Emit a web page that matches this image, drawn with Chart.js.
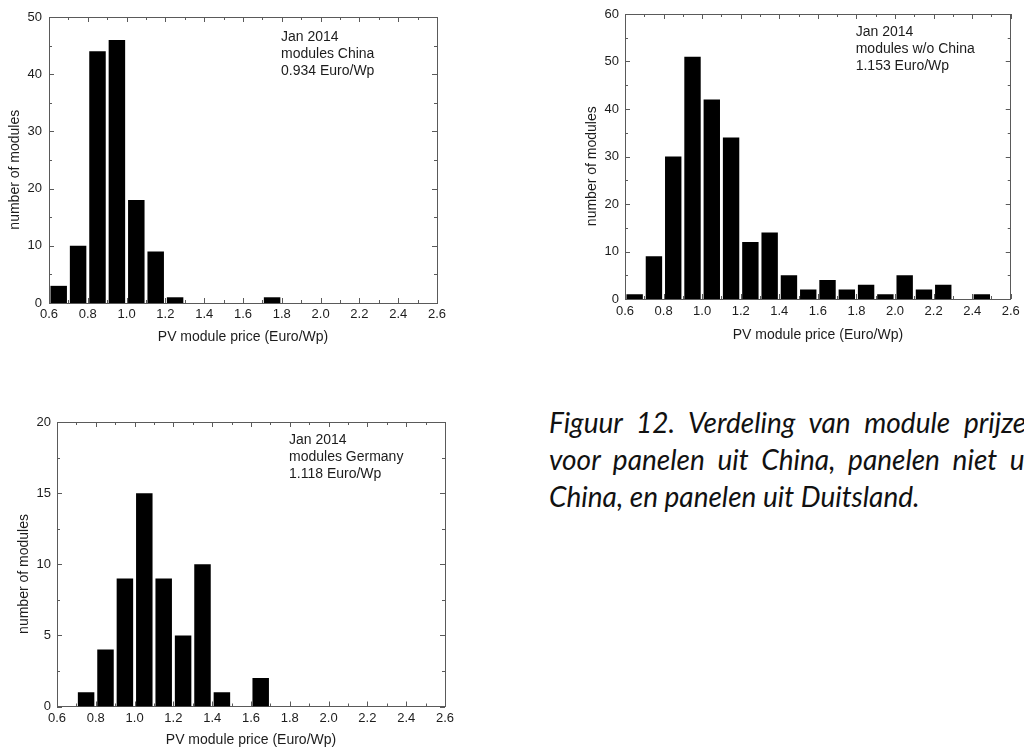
<!DOCTYPE html>
<html>
<head>
<meta charset="utf-8">
<script src="https://cdn.jsdelivr.net/npm/chart.js@4/dist/chart.umd.min.js"></script>
<style>
  html, body { margin: 0; padding: 0; background: #fff; overflow: hidden; width: 1024px; height: 747px; }
  .panel { position: absolute; }
  .caption { position: absolute; left: 549px; top: 404px; width: 492px;
             font-family: Lato, "Open Sans", sans-serif; font-style: italic; font-size: 28px;
             line-height: 37px; color: #111; white-space: nowrap; }
  .caption .j { text-align: justify; text-align-last: justify; white-space: normal; }
</style>
</head>
<body>
<div class="panel" id="p1" style="left:0px;top:0px;width:451px;height:349px"><canvas id="c1"></canvas></div>
<div class="panel" id="p2" style="left:575px;top:0px;width:449px;height:347px"><canvas id="c2"></canvas></div>
<div class="panel" id="p3" style="left:0px;top:405px;width:459px;height:344px"><canvas id="c3"></canvas></div>
<div class="caption">
  <div class="j">Figuur 12. Verdeling van module prijzen</div>
  <div class="j">voor panelen uit China, panelen niet uit</div>
  <div>China, en panelen uit Duitsland.</div>
</div>
<script>
// Price bins (Euro/Wp), 0.1 wide, given by their centres
const binCenters = [0.65, 0.75, 0.85, 0.95, 1.05, 1.15, 1.25, 1.35, 1.45, 1.55,
                    1.65, 1.75, 1.85, 1.95, 2.05, 2.15, 2.25, 2.35, 2.45];

// Number of modules per bin
const countsChina    = [3, 10, 44, 46, 18, 9, 1, 0, 0, 0, 0, 1, 0, 0, 0, 0, 0, 0, 0];
const countsNonChina = [1, 9, 30, 51, 42, 34, 12, 14, 5, 2, 4, 2, 3, 1, 5, 2, 3, 0, 1];
const countsGermany  = [0, 1, 4, 9, 15, 9, 5, 10, 1, 0, 2, 0, 0, 0, 0, 0, 0, 0, 0];

// Axis ranges
const priceMin = 0.6, priceMax = 2.6, priceStep = 0.2;
const yMaxChina = 50, yStepChina = 10;
const yMaxNonChina = 60, yStepNonChina = 10;
const yMaxGermany = 20, yStepGermany = 5;

// Note text in each panel
const notesChina    = ['Jan 2014', 'modules China', '0.934 Euro/Wp'];
const notesNonChina = ['Jan 2014', 'modules w/o China', '1.153 Euro/Wp'];
const notesGermany  = ['Jan 2014', 'modules Germany', '1.118 Euro/Wp'];

const xTitle = 'PV module price (Euro/Wp)';
const yTitle = 'number of modules';

const FONT = '"Liberation Sans", Arial, sans-serif';
const TEXT = '#1c1c1c';
const AXIS = '#5a5a5a';

// Short inward tick marks on all four sides, majors from the scale ticks, minors halfway
const innerTicks = {
  id: 'innerTicks',
  beforeDatasetsDraw(chart, args, opts) {
    const { ctx, chartArea: a, scales: { x, y } } = chart;
    const major = opts.major, minor = opts.minor;
    ctx.save();
    ctx.strokeStyle = AXIS;
    ctx.lineWidth = 1;
    const marks = (scale) => {
      const vals = scale.ticks.map(t => t.value);
      const out = vals.map(v => ({ v, len: major }));
      for (let i = 0; i < vals.length - 1; i++) out.push({ v: (vals[i] + vals[i + 1]) / 2, len: minor });
      return out;
    };
    ctx.beginPath();
    marks(x).forEach(({ v, len }) => {
      const px = Math.round(x.getPixelForValue(v)) + 0.5;
      ctx.moveTo(px, a.bottom); ctx.lineTo(px, a.bottom - len);
      ctx.moveTo(px, a.top); ctx.lineTo(px, a.top + len);
    });
    marks(y).forEach(({ v, len }) => {
      const py = Math.round(y.getPixelForValue(v)) + 0.5;
      ctx.moveTo(a.left, py); ctx.lineTo(a.left + len, py);
      ctx.moveTo(a.right, py); ctx.lineTo(a.right - len, py);
    });
    ctx.stroke();
    ctx.restore();
  }
};

// Text block in the upper right of the plot area
const noteText = {
  id: 'noteText',
  afterDraw(chart, args, opts) {
    const { ctx, chartArea: a } = chart;
    ctx.save();
    ctx.fillStyle = TEXT;
    ctx.font = '14px ' + FONT;
    ctx.textBaseline = 'middle';
    ctx.textAlign = 'left';
    const x0 = a.left + opts.fx * (a.right - a.left);
    opts.lines.forEach((t, i) => ctx.fillText(t, x0, a.top + opts.dy + i * opts.lh));
    ctx.restore();
  }
};

function makeHistogram(canvasId, counts, yMax, yStep, notes, L) {
  const data = binCenters.map((c, i) => ({ x: c, y: counts[i] }));
  return new Chart(document.getElementById(canvasId), {
    type: 'bar',
    data: {
      datasets: [{
        data,
        backgroundColor: '#000',
        borderWidth: 0,
        barPercentage: 0.85,
        categoryPercentage: 1.0
      }]
    },
    options: {
      responsive: true,
      maintainAspectRatio: false,
      animation: false,
      events: [],
      layout: { padding: 0 },
      plugins: {
        legend: { display: false },
        tooltip: { enabled: false },
        innerTicks: { major: 5, minor: 3 },
        noteText: { lines: notes, fx: 0.598, dy: L.noteDy, lh: 17 }
      },
      scales: {
        x: {
          type: 'linear', position: 'bottom', offset: false,
          min: priceMin, max: priceMax,
          grid: { display: false, drawTicks: false, offset: false },
          border: { display: true, color: AXIS, width: 1 },
          ticks: {
            stepSize: priceStep, autoSkip: false, maxRotation: 0, padding: L.xPad,
            color: TEXT, font: { family: FONT, size: 13 },
            callback: v => Number(v).toFixed(1)
          },
          title: { display: true, text: xTitle, color: TEXT,
                   font: { family: FONT, size: 14 }, padding: { top: 0, bottom: L.xTitlePad } },
          afterFit: s => { s.height = L.bottom; }
        },
        xTop: {
          type: 'linear', position: 'top', offset: false,
          min: priceMin, max: priceMax,
          grid: { display: false, drawTicks: false },
          border: { display: true, color: AXIS, width: 1 },
          ticks: { display: false, stepSize: priceStep },
          afterFit: s => { s.height = L.top; }
        },
        y: {
          type: 'linear', position: 'left',
          min: 0, max: yMax,
          grid: { display: false, drawTicks: false },
          border: { display: true, color: AXIS, width: 1 },
          ticks: {
            stepSize: yStep, padding: L.yPad,
            color: TEXT, font: { family: FONT, size: 13 }
          },
          title: { display: true, text: yTitle + '     ', color: TEXT,
                   font: { family: FONT, size: 14 }, padding: { top: L.yTitlePad, bottom: 0 } },
          afterFit: s => { s.width = L.left; }
        },
        yRight: {
          type: 'linear', position: 'right',
          min: 0, max: yMax,
          grid: { display: false, drawTicks: false },
          border: { display: true, color: AXIS, width: 1 },
          ticks: { display: false, stepSize: yStep },
          afterFit: s => { s.width = L.right; }
        }
      }
    },
    plugins: [innerTicks, noteText]
  });
}

makeHistogram('c1', countsChina, yMaxChina, yStepChina, notesChina,
  { left: 49, right: 14, top: 17, bottom: 46, xPad: 3.8, yPad: 7, xTitlePad: 3.6, yTitlePad: 6.6, noteDy: 20 });
makeHistogram('c2', countsNonChina, yMaxNonChina, yStepNonChina, notesNonChina,
  { left: 50, right: 11, top: 14, bottom: 48, xPad: 4.2, yPad: 6, xTitlePad: 3.6, yTitlePad: 8.6, noteDy: 18 });
makeHistogram('c3', countsGermany, yMaxGermany, yStepGermany, notesGermany,
  { left: 57, right: 14, top: 17, bottom: 42.5, xPad: 4.5, yPad: 6, xTitlePad: 0, yTitlePad: 15.6, noteDy: 18 });
</script>
</body>
</html>
